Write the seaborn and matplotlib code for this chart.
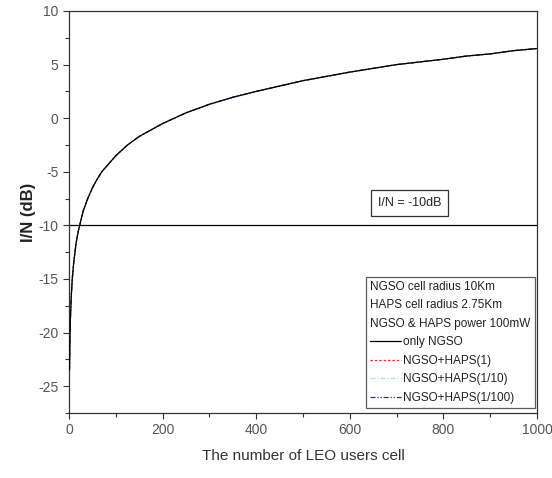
import numpy as np
import pandas as pd
import matplotlib
matplotlib.use("Agg")
import matplotlib.pyplot as plt
from matplotlib.ticker import MultipleLocator
import seaborn as sns

# Data
users = [1, 2, 3, 5, 7, 10, 15, 20, 30, 40, 50, 60, 70, 80, 100, 125, 150, 175, 200, 250,
         300, 350, 400, 450, 500, 550, 600, 650, 700, 750, 800, 850, 900, 950, 1000]
only_ngso = [-23.5, -20.5, -18.7, -16.5, -15.0, -13.5, -11.7, -10.5, -8.7, -7.5, -6.5, -5.7, -5.0, -4.5,
             -3.5, -2.5, -1.7, -1.1, -0.5, 0.5, 1.3, 1.95, 2.5, 3.0, 3.5, 3.9, 4.3, 4.65, 5.0, 5.25,
             5.5, 5.8, 6.0, 6.3, 6.5]
ngso_haps_1 = [-23.4, -20.4, -18.6, -16.4, -14.9, -13.4, -11.7, -10.5, -8.7, -7.5, -6.5, -5.7, -5.0, -4.5,
               -3.5, -2.5, -1.7, -1.1, -0.5, 0.5, 1.3, 1.95, 2.5, 3.0, 3.5, 3.9, 4.3, 4.65, 5.0, 5.25,
               5.5, 5.8, 6.0, 6.3, 6.5]
ngso_haps_10 = [-23.5, -20.5, -18.7, -16.5, -15.0, -13.5, -11.7, -10.5, -8.7, -7.5, -6.5, -5.7, -5.0, -4.5,
                -3.5, -2.5, -1.7, -1.1, -0.5, 0.5, 1.3, 1.95, 2.5, 3.0, 3.5, 3.9, 4.3, 4.65, 5.0, 5.25,
                5.5, 5.8, 6.0, 6.3, 6.5]
ngso_haps_100 = [-23.5, -20.5, -18.7, -16.5, -15.0, -13.5, -11.7, -10.5, -8.7, -7.5, -6.5, -5.7, -5.0, -4.5,
                 -3.5, -2.5, -1.7, -1.1, -0.5, 0.5, 1.3, 1.95, 2.5, 3.0, 3.5, 3.9, 4.3, 4.65, 5.0, 5.25,
                 5.5, 5.8, 6.0, 6.3, 6.5]
threshold = -10

series_names = ["only NGSO", "NGSO+HAPS(1)", "NGSO+HAPS(1/10)", "NGSO+HAPS(1/100)"]
series_vals = [only_ngso, ngso_haps_1, ngso_haps_10, ngso_haps_100]
colors = ["black", "#e03030", "#a8e8e0", "#2a2a9a"]
dashes = [(None, None), (2, 1.5), (4, 1.5, 1, 1.5), (4, 1.5, 1, 1.5, 1, 1.5)]
zorders = [4, 2, 2.5, 3]

sns.set_style("ticks")
plt.rcParams["font.family"] = ["Liberation Sans", "DejaVu Sans"]
plt.rcParams["axes.unicode_minus"] = False

fig = plt.figure(figsize=(5.52, 4.78), dpi=100)
ax = fig.add_axes([0.125, 0.136, 0.848, 0.841])

for name, vals, c, d, z in zip(series_names, series_vals, colors, dashes, zorders):
    df = pd.DataFrame({"users": users, "IN": vals})
    sns.lineplot(data=df, x="users", y="IN", ax=ax, color=c, lw=0.9, label=name, zorder=z)
    line = ax.get_lines()[-1]
    if d[0] is not None:
        line.set_dashes(d)

ax.axhline(threshold, color="black", lw=0.9)

ax.set_xlim(0, 1000)
ax.set_ylim(-27.5, 10)
ax.xaxis.set_major_locator(MultipleLocator(200))
ax.xaxis.set_minor_locator(MultipleLocator(100))
ax.yaxis.set_major_locator(MultipleLocator(5))
ax.yaxis.set_minor_locator(MultipleLocator(2.5))
ax.tick_params(which="both", direction="out", colors="#333333", labelcolor="#555555", labelsize=10, width=0.8)
ax.tick_params(which="major", length=4)
ax.tick_params(which="minor", length=3)
for s in ax.spines.values():
    s.set_visible(True)
    s.set_color("#333333")
    s.set_linewidth(0.9)
ax.tick_params(top=False, right=False)

ax.set_xlabel("The number of LEO users cell", fontsize=11, color="#333333", labelpad=8)
ax.set_ylabel("I/N (dB)", fontsize=12, fontweight="bold", color="#222222", labelpad=2)

ax.text(727, -7.9, "I/N = -10dB", fontsize=9, ha="center", va="center", color="#222222",
        bbox=dict(boxstyle="square,pad=0.55", fc="white", ec="#333333", lw=0.9))

leg = ax.legend(loc="lower right", bbox_to_anchor=(0.995, 0.013),
                title="NGSO cell radius 10Km\nHAPS cell radius 2.75Km\nNGSO & HAPS power 100mW",
                alignment="left", fontsize=8.5, title_fontsize=8.5, frameon=True, fancybox=False,
                edgecolor="#333333", handlelength=2.6, handletextpad=0.2, labelspacing=0.55,
                borderpad=0.35, borderaxespad=0)
leg.get_frame().set_linewidth(0.9)
for t in leg.get_texts():
    t.set_color("#222222")
leg.get_title().set_color("#222222")
leg.get_title().set_linespacing(1.7)

fig.savefig("out.png", dpi=100)
